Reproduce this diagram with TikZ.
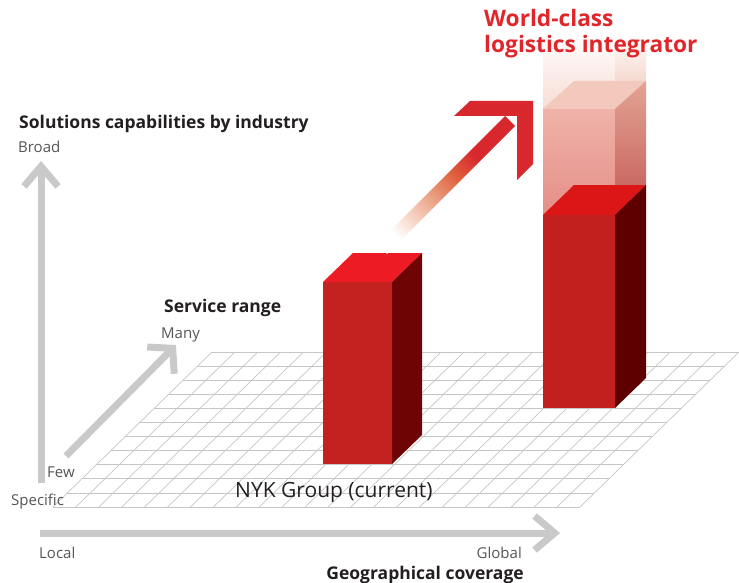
\documentclass[tikz,border=0pt]{standalone}
\usepackage{fontspec}
\setmainfont{Open Sans}
\usepackage{tikz}
\usetikzlibrary{positioning}
\usetikzlibrary{calc}
\usetikzlibrary{arrows.meta}

\definecolor{axisgray}{HTML}{C9C9C9}
\definecolor{gridgray}{HTML}{C6C6C6}
\definecolor{labelgray}{HTML}{555555}
\definecolor{titleblack}{HTML}{231F20}
\definecolor{goalred}{HTML}{E0262B}
\definecolor{arrowred}{HTML}{D8282D}
\definecolor{arroworange}{HTML}{DE5E3C}
\definecolor{arrowpeach}{HTML}{EBA285}
\definecolor{arrowblush}{HTML}{F8DDD0}
\definecolor{nowtop}{HTML}{ED1C24}
\definecolor{nowfront}{HTML}{C42121}
\definecolor{nowside}{HTML}{6E0404}
\definecolor{goaltop}{HTML}{DC1517}
\definecolor{goalfront}{HTML}{C21F1F}
\definecolor{goalside}{HTML}{5E0000}
\definecolor{ghostfronttop}{HTML}{EFB3A9}
\definecolor{ghostfrontbot}{HTML}{E58E88}
\definecolor{ghosttop}{HTML}{F3C8BD}
\definecolor{ghostsidetop}{HTML}{E3A493}
\definecolor{ghostsidebot}{HTML}{C35957}
\definecolor{fadefront}{HTML}{F7DDD5}
\definecolor{fadeside}{HTML}{EFC3B3}

\pgfdeclarehorizontalshading{growth}{100bp}{color(0bp)=(white); color(24bp)=(white);
  color(31bp)=(arrowblush); color(43bp)=(arrowpeach); color(55bp)=(arroworange);
  color(65bp)=(arrowred); color(100bp)=(arrowred)}

\tikzset{
  gridline/.style  = { draw=gridgray, line width=0.7pt },
  axis/.style      = { draw=axisgray, line width=7pt },
  axislabel/.style = { font=\fontsize{15}{18}\selectfont, text=labelgray, inner sep=0pt },
  axistitle/.style = { font=\bfseries\fontsize{17.5}{20}\selectfont, text=titleblack, inner sep=0pt },
  barface/.style   = { rectangle, inner sep=0pt, outer sep=0pt, draw=none },
}

\begin{document}
\begin{tikzpicture}[x=1pt,y=-1pt]
  \useasboundingbox (0,0) rectangle (739,583);

  % floor grid
  \coordinate (gNW) at (212,352);
  \coordinate (gNE) at (739,352);
  \coordinate (gSW) at (53,507);
  \coordinate (gSE) at (580,507);
  \foreach \i in {0,...,11}
    \draw [gridline] ($(gNW)!\i/11!(gSW)$) -- ($(gNE)!\i/11!(gSE)$);
  \foreach \j in {0,...,23}
    \draw [gridline] ($(gNW)!\j/23!(gNE)$) -- ($(gSW)!\j/23!(gSE)$);

  % axes
  \coordinate (yfoot) at (41,483);
  \coordinate (ytip)  at (41,161);
  \coordinate (zfoot) at (66,456);
  \coordinate (ztip)  at (176,345);
  \coordinate (xfoot) at (40,533);
  \coordinate (xtip)  at (560,533);
  \draw [axis,-{Straight Barb[length=20pt,width=34pt]}] (yfoot) -- (ytip);
  \draw [axis,-{Straight Barb[length=17pt,width=38pt]}] (zfoot) -- (ztip);
  \draw [axis,-{Straight Barb[length=20pt,width=34pt]}] (xfoot) -- (xtip);

  \node (industry) [axistitle,anchor=base west] at (19,129) {Solutions capabilities by industry};
  \node (broad)    [axislabel,anchor=base west] at (18,153) {Broad};
  \node (specific) [axislabel,anchor=base west] at (11,505) {Specific};
  \node (service)  [axistitle,anchor=base west] at (164,312) {Service range};
  \node (many)     [axislabel,anchor=base west] at (161,338) {Many};
  \node (few)      [axislabel,anchor=base west] at (47,477) {Few};
  \node (local)    [axislabel,anchor=base west] at (39,558) {Local};
  \node (global)   [axislabel,anchor=base east] at (522,558) {Global};
  \node (geo)      [axistitle,anchor=base east] at (524,579) {Geographical coverage};

  % target bar, faded part
  \node (fade)  [barface,anchor=north west,minimum width=72pt,minimum height=76pt,
                 top color=white,bottom color=fadefront] at (543,33) {};
  \shade [top color=white,bottom color=fadeside]
    (fade.north east) -- ++(31,0) -- ++(0,48) -- (fade.south east) -- cycle;
  \node (ghost) [barface,anchor=north west,minimum width=72pt,minimum height=106pt,
                 top color=ghostfronttop,bottom color=ghostfrontbot] at (543,109) {};
  \fill [ghosttop] (ghost.north west) -- (ghost.north east) -- ++(31,-28)
    -- ($(ghost.north west)+(31,-28)$) -- cycle;
  \shade [top color=ghostsidetop,bottom color=ghostsidebot]
    (ghost.north east) -- ++(31,-28) -- ($(ghost.south east)+(31,-30)$) -- (ghost.south east) -- cycle;

  % target bar
  \node (goal) [barface,anchor=north west,minimum width=72pt,minimum height=193pt,fill=goalfront] at (543,215) {};
  \fill [goaltop] (goal.north west) -- (goal.north east) -- ++(31,-30)
    -- ($(goal.north west)+(31,-30)$) -- cycle;
  \fill [goalside] (goal.north east) -- ++(31,-30) -- ($(goal.south east)+(31,-30)$) -- (goal.south east) -- cycle;

  % current bar
  \node (now) [barface,anchor=north west,minimum width=69pt,minimum height=182pt,fill=nowfront] at (323,282) {};
  \fill [nowtop] (now.north west) -- (now.north east) -- ++(30,-29)
    -- ($(now.north west)+(30,-29)$) -- cycle;
  \fill [nowside] (now.north east) -- ++(30,-29) -- ($(now.south east)+(30,-29)$) -- (now.south east) -- cycle;

  \node (nyk) [inner sep=0pt,anchor=base west,text=titleblack,font=\fontsize{21}{25}\selectfont] at (235,497) {NYK Group (current)};

  % growth arrow
  \shade [shading=growth,shading angle=45]
    (377,244) -- (505,116) -- (515,126) -- (387,254) -- cycle;
  \fill [arrowred] (533,101) -- (470,101) -- (454,116) -- (517,116) -- (517,180) -- (533,164) -- cycle;

  \node (goaltitle) [inner sep=0pt,anchor=base west,align=left,text=goalred,
                     font=\bfseries\fontsize{22.7}{26}\selectfont] at (484,53) {World-class\\logistics integrator};
\end{tikzpicture}
\end{document}
